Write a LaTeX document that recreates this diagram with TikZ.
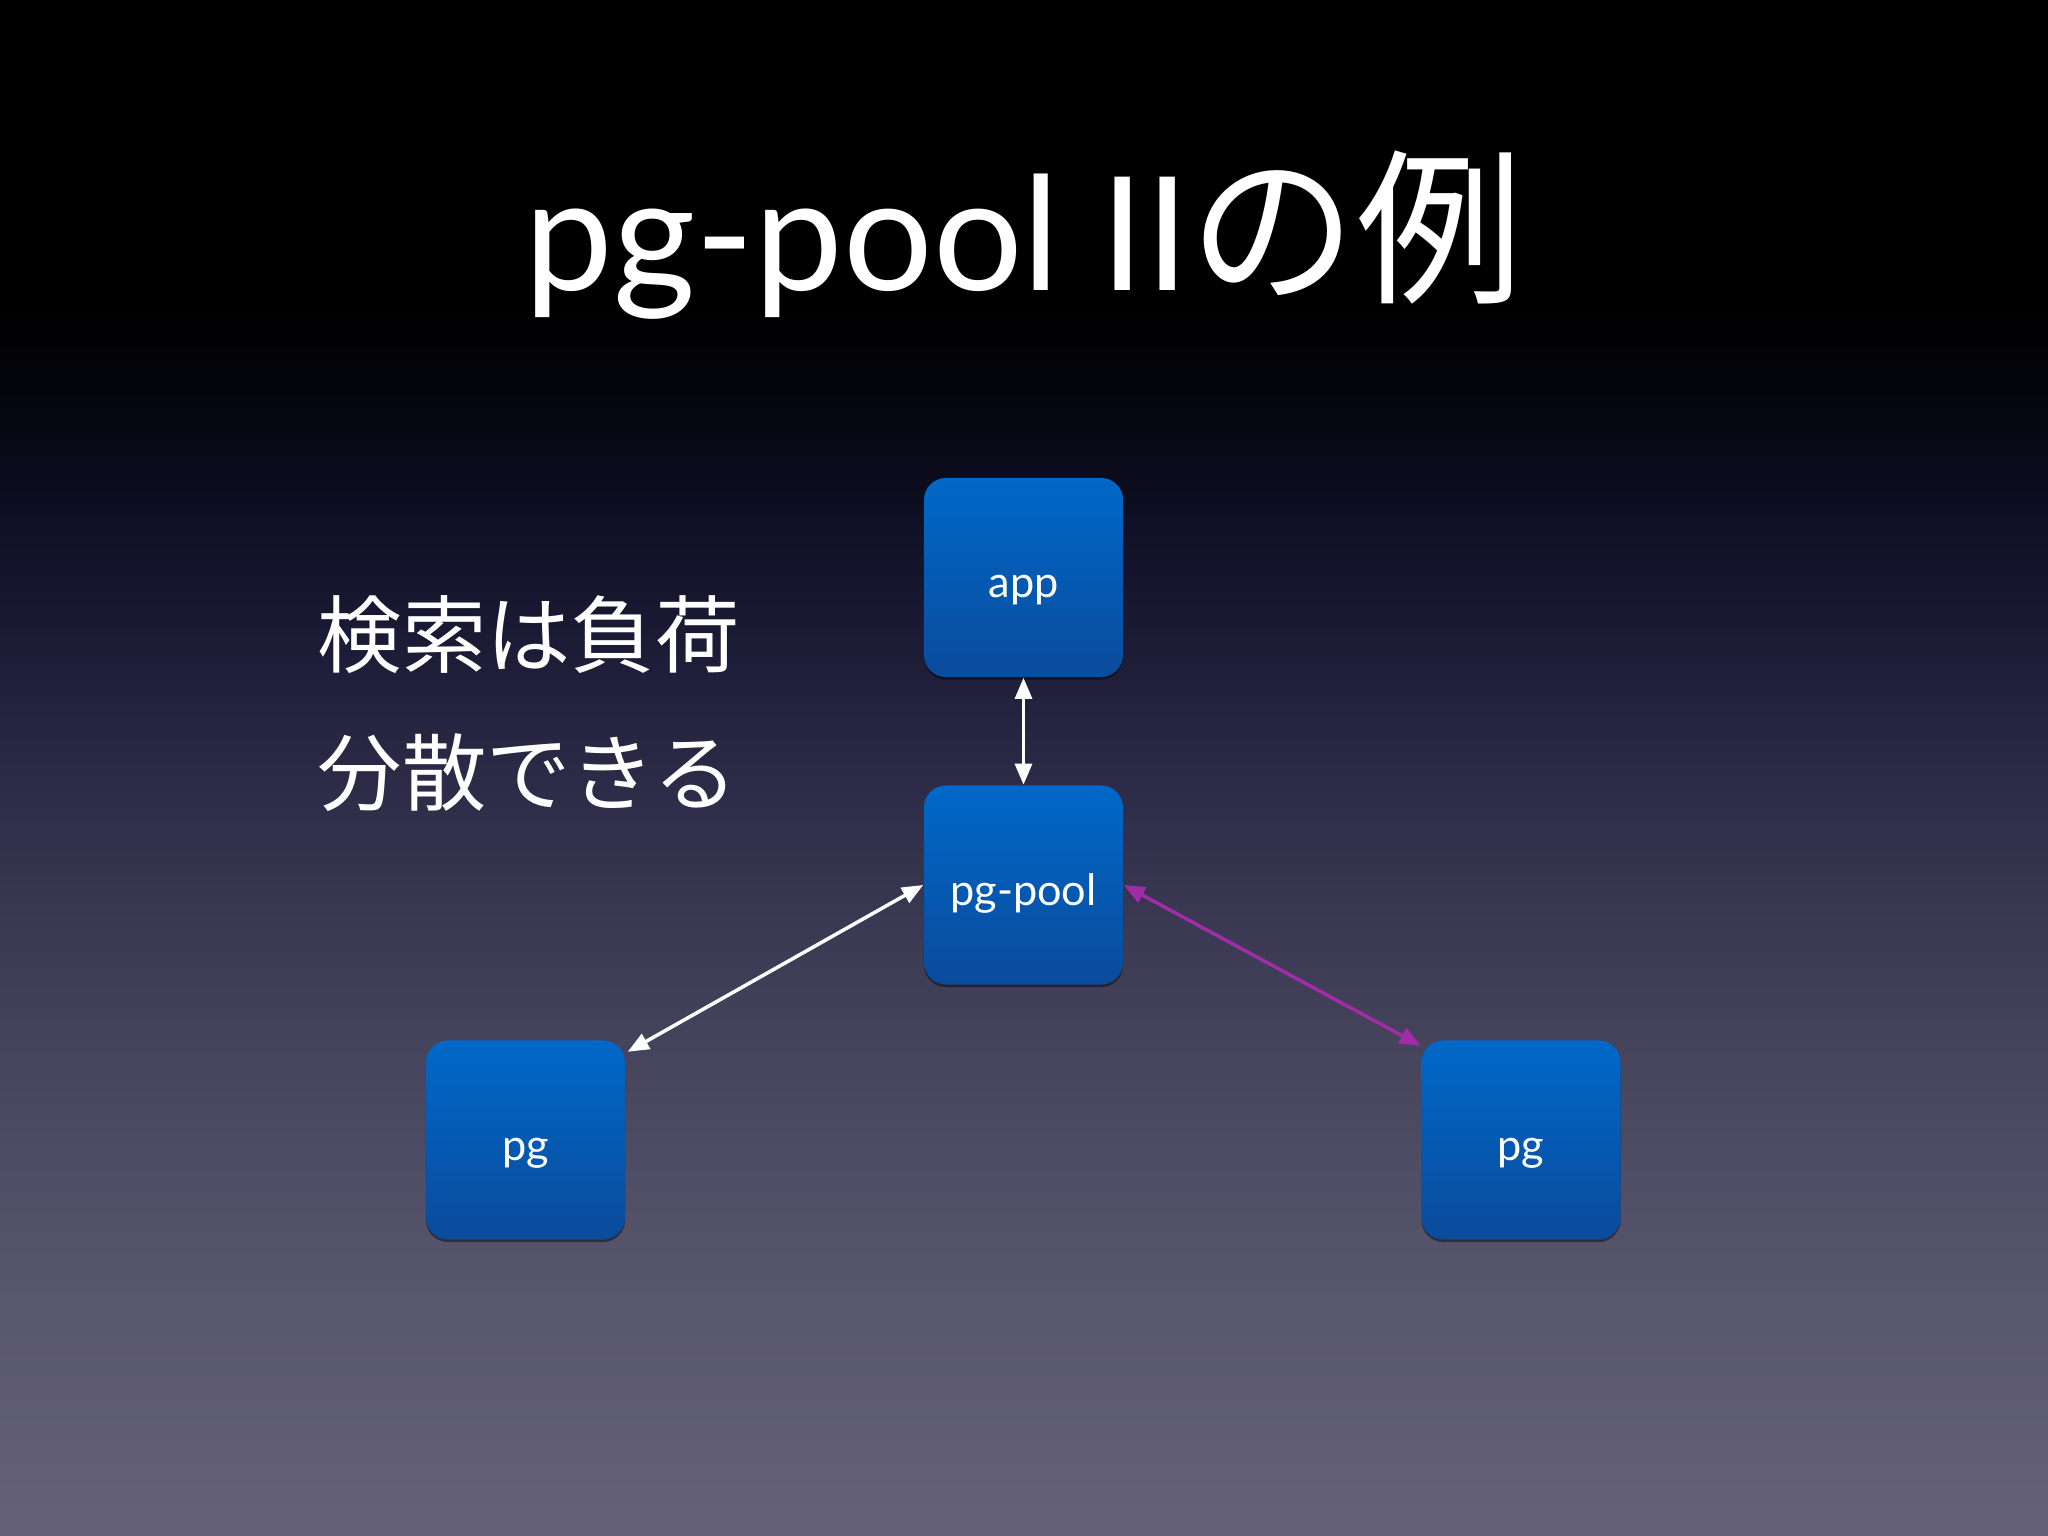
\documentclass[tikz,border=0pt]{standalone}
\usepackage{fontspec}
\setmainfont{Lato}
\newfontfamily\jp{Noto Sans CJK JP}
\usetikzlibrary{arrows.meta,shadows}
\definecolor{boxtop}{HTML}{0068C8}
\definecolor{boxbot}{HTML}{0B4B9C}
\definecolor{purp}{HTML}{A02CA8}
\definecolor{bgA}{HTML}{646178}
\definecolor{bgB}{HTML}{59576E}
\definecolor{bgC}{HTML}{46445C}
\definecolor{bgD}{HTML}{2D2B47}
\definecolor{bgE}{HTML}{1D1C37}
\definecolor{bgF}{HTML}{0F0F25}
\definecolor{bgG}{HTML}{04040C}
\pgfdeclareverticalshading{bgshade}{100bp}{color(0bp)=(bgA); color(25bp)=(bgA); color(32.68bp)=(bgB); color(40.98bp)=(bgC); color(49.45bp)=(bgD); color(53.84bp)=(bgE); color(58.07bp)=(bgF); color(62.3bp)=(bgG); color(65.23bp)=(black); color(75bp)=(black); color(100bp)=(black)}
\tikzset{
  box/.style={rounded corners=0.22cm, minimum width=1.99cm, minimum height=1.99cm,
    top color=boxtop, bottom color=boxbot, draw=none, text=white,
    font=\fontsize{12.3pt}{14pt}\selectfont, text height=11.6pt, text depth=0pt, inner sep=0pt,
    drop shadow={opacity=0.45, shadow xshift=0pt, shadow yshift=-0.7pt, fill=black}},
  link/.style={draw=white, line width=1pt,
    {Triangle[length=6pt,width=4.8pt]}-{Triangle[length=6pt,width=4.8pt]}},
  jptext/.style={anchor=base west, inner sep=0pt, text=white, font=\jp\fontsize{24pt}{28pt}\selectfont}
}
\begin{document}
\begin{tikzpicture}[x=0.01cm,y=-0.01cm]
\fill[shading=bgshade] (0,0) rectangle (2048,1536);
\useasboundingbox (0,0) rectangle (2048,1536);
\node[anchor=base, inner sep=0pt, text=white, font=\fontsize{45pt}{55pt}\selectfont] (title) at (1024,290) {pg-pool II{\jp\fontsize{47.5pt}{55pt}\selectfont の例}};
\node[jptext] (t1) at (317,666) {検索は負荷};
\node[jptext] (t2) at (317,804) {分散できる};
\node[box] (app) at (1023.5,577.5) {app};
\node[box] (pool) at (1023.5,885) {pg-pool};
\node[box] (pgl) at (525.5,1140) {pg};
\node[box] (pgr) at (1521,1140) {pg};
\coordinate (le) at ([shift={(2,12)}]pgl.north east);
\coordinate (re) at ([shift={(0,6)}]pgr.north west);
\draw[link] (app.south) -- (pool.north);
\draw[link] (pool.west) -- (le);
\draw[link, draw=purp, fill=purp] (pool.east) -- (re);
\end{tikzpicture}
\end{document}
